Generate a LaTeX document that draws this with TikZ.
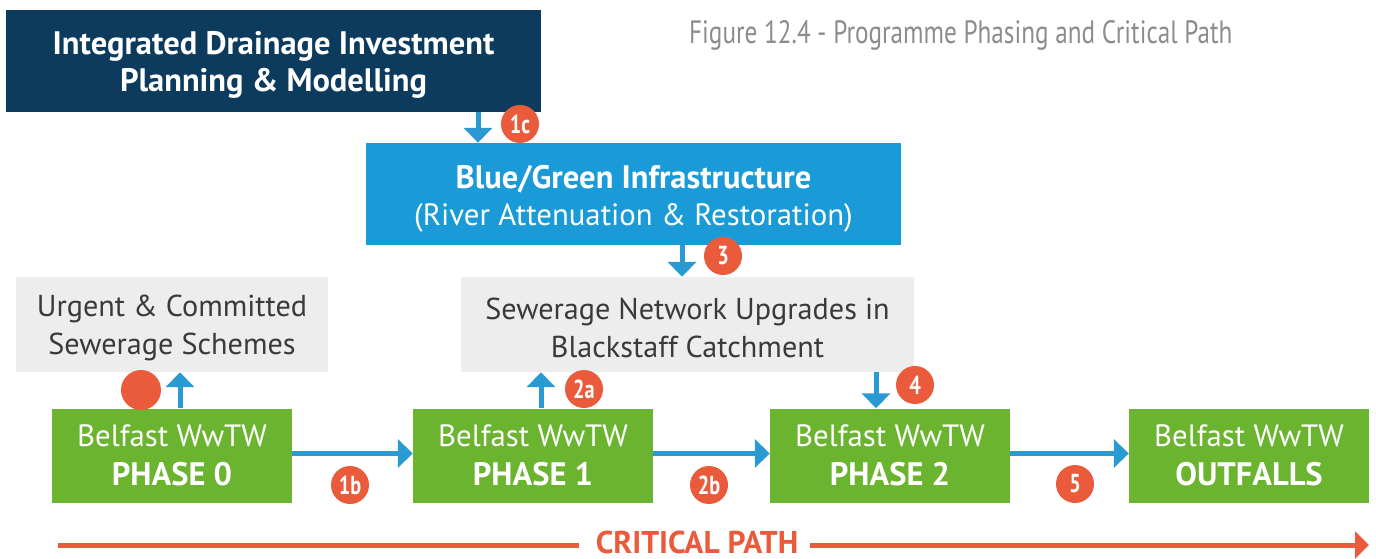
\documentclass[tikz,border=0pt]{standalone}
\usepackage{fontspec}
\setmainfont{PT Sans}
\newfontfamily\dinfont[FakeStretch=0.78]{PT Sans}
\usetikzlibrary{arrows.meta,positioning,calc}
\definecolor{navy}{HTML}{0C3B5E}
\definecolor{boxblue}{HTML}{1A9AD6}
\definecolor{arrowblue}{HTML}{2A9AD3}
\definecolor{phasegreen}{HTML}{6AB42F}
\definecolor{greybox}{HTML}{EDEDED}
\definecolor{greytext}{HTML}{3A3A3A}
\definecolor{titlegrey}{HTML}{8C8C8C}
\definecolor{badgeorange}{HTML}{E95B3B}
\newcommand{\bfbig}{\fontsize{32.5}{37}\selectfont\bfseries}
\begin{document}
\begin{tikzpicture}[x=1pt,y=-1pt,
  boxbase/.style={rectangle, inner sep=0pt, align=center},
  txt/.style={inner sep=0pt, align=center},
  navybox/.style={boxbase, fill=navy, minimum width=535pt, minimum height=102pt},
  navytxt/.style={txt, text=white, font=\fontsize{32.5}{37}\selectfont\bfseries},
  bluebox/.style={boxbase, fill=boxblue, minimum width=535pt, minimum height=102pt},
  bluetxt/.style={txt, text=white, font=\fontsize{30.8}{37}\selectfont},
  greyb/.style={boxbase, fill=greybox, minimum height=95pt},
  greytxt/.style={txt, text=greytext, font=\fontsize{30.2}{38}\selectfont},
  greenbox/.style={boxbase, fill=phasegreen, text=white, minimum width=240pt, minimum height=94pt, font=\fontsize{30.8}{39}\selectfont},
  blueline/.style={draw=arrowblue, line width=5pt, -{Triangle[width=28pt,length=15pt]}},
  badge/.style={circle, fill=badgeorange, minimum size=38pt, inner sep=0pt, text=white, font=\dinfont\bfseries\fontsize{26}{26}\selectfont},
  critline/.style={draw=badgeorange, line width=5pt},
]
\useasboundingbox (0,0) rectangle (1376,559);
% boxes
\node[navybox] (navy) at (273.5,61) {};
\node[navytxt] (navyt) at (273.5,65) {Integrated Drainage Investment\\Planning \& Modelling};
\node[bluebox] (blue) at (633.5,194) {};
\node[bluetxt] (bluet) at (633.5,199) {{\fontsize{32.5}{37}\selectfont\bfseries Blue/Green Infrastructure}\\(River Attenuation \& Restoration)};
\node[greyb, minimum width=312pt] (urgent) at (172,324.5) {};
\node[greytxt] (urgentt) at (172,328) {Urgent \& Committed\\Sewerage Schemes};
\node[greyb, minimum width=453pt] (sewer) at (687.5,324.5) {};
\node[greytxt] (sewert) at (687.5,328) {Sewerage Network Upgrades in\\Blackstaff Catchment};
\node[greenbox] (p0) at (172,455.5) {Belfast WwTW\\{\bfbig PHASE 0}};
\node[greenbox] (p1) at (533,455.5) {Belfast WwTW\\{\bfbig PHASE 1}};
\node[greenbox] (p2) at (890,455.5) {Belfast WwTW\\{\bfbig PHASE 2}};
\node[greenbox] (out) at (1249,455.5) {Belfast WwTW\\{\bfbig OUTFALLS}};
% title
\node[anchor=west, text=titlegrey, font=\dinfont\fontsize{32.3}{32}\selectfont, inner sep=0pt] (title) at (689,35) {Figure 12.4 - Programme Phasing and Critical Path};
% vertical arrows
\coordinate (c1ca) at (478,0);
\draw[blueline] (c1ca |- navy.south) -- (c1ca |- blue.north);
\coordinate (c3a) at (682,0);
\draw[blueline] (c3a |- blue.south) -- (c3a |- sewer.north);
\coordinate (c0a) at (180,0);
\draw[blueline] (c0a |- p0.north) -- (c0a |- urgent.south);
\coordinate (c2aa) at (541,0);
\draw[blueline] (c2aa |- p1.north) -- (c2aa |- sewer.south);
\coordinate (c4a) at (876,0);
\draw[blueline] (c4a |- sewer.south) -- (c4a |- p2.north);
% horizontal arrows
\coordinate (hy) at (0,453.5);
\draw[blueline] (p0.east |- hy) -- (p1.west |- hy);
\draw[blueline] (p1.east |- hy) -- (p2.west |- hy);
\draw[blueline] (p2.east |- hy) -- (out.west |- hy);
% badges
\node[badge] (b1c) at (520,124) {1c};
\node[badge] (b3) at (723,256) {3};
\node[badge, minimum size=40pt] (b0) at (141,390) {};
\node[badge] (b2a) at (584,389) {2a};
\node[badge] (b4) at (915,385) {4};
\node[badge] (b1b) at (350,485) {1b};
\node[badge] (b2b) at (709,485) {2b};
\node[badge] (b5) at (1075,484) {5};
% critical path
\node[text=badgeorange, font=\bfseries\fontsize{31.5}{31}\selectfont, inner sep=0pt] (crit) at (697,542) {CRITICAL PATH};
\coordinate (cstart) at (58,545);
\coordinate (cend) at (1369,545);
\draw[critline] (cstart) -- ($(crit.west |- cstart)+(-17,0)$);
\draw[critline, -{Triangle[width=27pt,length=14pt]}] ($(crit.east |- cend)+(12,0)$) -- (cend);
\end{tikzpicture}
\end{document}
